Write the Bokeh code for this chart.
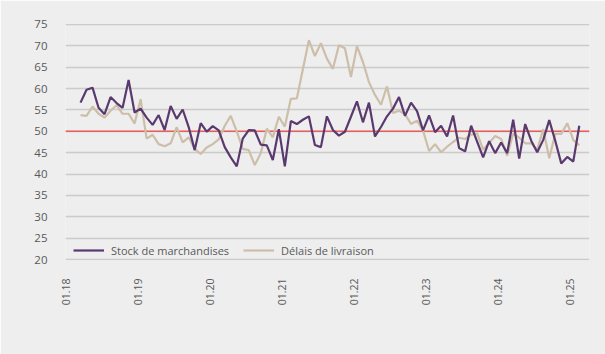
import math
from bokeh.plotting import figure
from bokeh.models import Range1d, FixedTicker, Span, Legend, LegendItem
from bokeh.embed import file_html
from bokeh.resources import INLINE

# monthly series, first value = 03.2018
first_year = 2018
first_month = 3

stock_marchandises = [
    56.7, 59.7, 60.2, 55.5, 54.0, 58.0, 56.6, 55.5, 62.0, 54.4,
    55.3, 53.2, 51.5, 53.8, 50.3, 55.9, 52.9, 55.1, 51.0, 45.6,
    51.9, 49.9, 51.2, 50.2, 46.3, 43.9, 41.8, 48.3, 50.3, 50.2,
    46.9, 46.7, 43.3, 50.5, 41.8, 52.4, 51.7, 52.7, 53.5, 46.8,
    46.3, 53.5, 50.3, 49.0, 49.9, 53.4, 57.0, 52.1, 56.7, 48.8,
    51.0, 53.5, 55.3, 58.0, 53.6, 56.7, 54.7, 50.2, 53.7, 49.8,
    51.3, 48.8, 53.7, 46.1, 45.3, 51.3, 47.6, 43.9, 47.7, 44.9,
    47.4, 44.9, 52.7, 43.6, 51.7, 47.8, 45.1, 48.0, 52.6, 47.8,
    42.5, 44.0, 42.9, 51.3,
]

delais_livraison = [
    53.8, 53.6, 55.8, 54.1, 53.2, 54.8, 56.1, 54.1, 54.1, 51.8,
    57.5, 48.3, 49.2, 47.0, 46.5, 47.2, 51.0, 47.4, 48.6, 45.9,
    44.7, 46.2, 47.0, 48.1, 51.3, 53.6, 50.0, 45.9, 45.6, 42.1,
    44.9, 50.6, 48.6, 53.4, 51.1, 57.6, 57.7, 64.5, 71.3, 67.6,
    70.6, 67.0, 64.6, 70.1, 69.4, 62.7, 69.9, 66.2, 61.5, 58.5,
    56.2, 60.5, 54.3, 54.8, 54.0, 51.7, 52.5, 50.2, 45.4, 47.0,
    45.1, 46.4, 47.5, 48.5, 48.2, 49.2, 49.5, 45.7, 47.3, 48.9,
    48.2, 44.3, 49.5, 48.5, 47.2, 47.2, 45.7, 50.5, 43.7, 49.4,
    49.4, 51.9, 48.0, 46.7,
]

tick_years = list(range(2018, 2026))
tick_labels = ["01.%02d" % (y % 100) for y in tick_years]
y_ticks = list(range(20, 80, 5))
seuil = 50

# x = months since January of first tick year
x_stock = [(first_month - 1) + i for i in range(len(stock_marchandises))]
x_delais = [(first_month - 1) + i for i in range(len(delais_livraison))]
tick_pos = [12 * (y - tick_years[0]) - 0.5 for y in tick_years]

BG = "#eeeeee"
FONT = "Open Sans"
PURPLE = "#5a3a6e"
BEIGE = "#cdbea9"

p = figure(width=605, height=354, output_backend="svg", toolbar_location=None,
           x_range=Range1d(-0.5, 86.7), y_range=Range1d(19.8, 75.2),
           min_border_left=65, min_border_right=16,
           min_border_top=23, min_border_bottom=94)
p.background_fill_color = BG
p.border_fill_color = BG
p.outline_line_color = None

p.xgrid.grid_line_color = None
p.ygrid.grid_line_color = "#cbcbcb"
p.ygrid.grid_line_width = 1.6

p.yaxis.ticker = FixedTicker(ticks=y_ticks)
p.xaxis.ticker = FixedTicker(ticks=tick_pos)
p.xaxis.major_label_overrides = {t: l for t, l in zip(tick_pos, tick_labels)}
p.xaxis.major_label_orientation = math.pi / 2

for ax in (p.xaxis, p.yaxis):
    ax.axis_line_color = None
    ax.major_tick_line_color = None
    ax.minor_tick_line_color = None
    ax.major_label_text_font = FONT
    ax.major_label_text_color = "#595959"
p.yaxis.major_label_text_font_size = "11.5px"
p.xaxis.major_label_text_font_size = "10.5px"
p.yaxis.major_label_standoff = 12
p.xaxis.major_label_standoff = 12

p.add_layout(Span(location=seuil, dimension="width", line_color="#ec5c5c",
                  line_width=1.6, level="underlay"))

r2 = p.line(x_delais, delais_livraison, line_color=BEIGE, line_width=2.2)
r1 = p.line(x_stock, stock_marchandises, line_color=PURPLE, line_width=2.2)

legend = Legend(items=[LegendItem(label="Stock de marchandises", renderers=[r1]),
                       LegendItem(label="Délais de livraison", renderers=[r2])],
                orientation="horizontal", location=(8, 0))
legend.padding = 0
legend.margin = 0
legend.spacing = 14
legend.glyph_width = 31
legend.glyph_height = 20
legend.label_height = 20
legend.label_standoff = 7
legend.label_text_font = FONT
legend.label_text_font_size = "11px"
legend.label_text_color = "#595959"
legend.background_fill_alpha = 0
legend.border_line_alpha = 0
p.add_layout(legend, "center")

open("out.html", "w").write(file_html(p, INLINE))
